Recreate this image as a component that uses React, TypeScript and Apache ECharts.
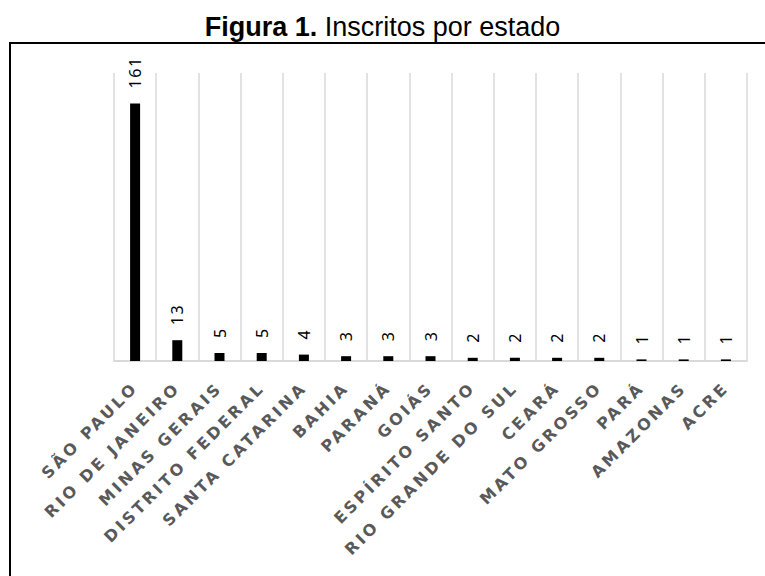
import React, { useEffect, useRef } from 'react';
import * as echarts from 'echarts';

const categories = [
  'SÃO PAULO',
  'RIO DE JANEIRO',
  'MINAS GERAIS',
  'DISTRITO FEDERAL',
  'SANTA CATARINA',
  'BAHIA',
  'PARANÁ',
  'GOIÁS',
  'ESPÍRITO SANTO',
  'RIO GRANDE DO SUL',
  'CEARÁ',
  'MATO GROSSO',
  'PARÁ',
  'AMAZONAS',
  'ACRE',
];
const inscritos = [161, 13, 5, 5, 4, 3, 3, 3, 2, 2, 2, 2, 1, 1, 1];
const yMin = 0;
const yMax = 180;

export default function App() {
  const ref = useRef<HTMLDivElement>(null);

  useEffect(() => {
    if (!ref.current) return;
    const chart = echarts.init(ref.current, undefined, { renderer: 'svg' });
    chart.setOption({
      animation: false,
      backgroundColor: '#ffffff',
      title: {
        text: '{b|Figura 1.}{r| Inscritos por estado}',
        left: 'center',
        top: 8,
        textStyle: {
          rich: {
            b: { fontFamily: 'Liberation Sans', fontWeight: 'bold', fontSize: 27, color: '#000' },
            r: { fontFamily: 'Liberation Sans', fontWeight: 'normal', fontSize: 27, color: '#000' },
          },
        },
      },
      graphic: [
        {
          type: 'rect',
          shape: { x: 10, y: 43, width: 820, height: 620 },
          style: { fill: 'none', stroke: '#000', lineWidth: 2 },
          silent: true,
        },
      ],
      grid: { left: 114, right: 18, top: 73, bottom: 215, containLabel: false },
      xAxis: {
        type: 'category',
        data: categories,
        boundaryGap: true,
        axisLine: { show: true, lineStyle: { color: '#d9d9d9', width: 2 } },
        axisTick: { show: false },
        splitLine: { show: true, interval: 0, lineStyle: { color: '#d9d9d9', width: 1.5 } },
        axisLabel: {
          interval: 0,
          rotate: 45,
          margin: 24,
          color: '#595959',
          fontFamily: 'DejaVu Sans',
          fontWeight: 'bold',
          fontSize: 16,
        },
      },
      yAxis: {
        type: 'value',
        min: yMin,
        max: yMax,
        show: false,
        splitLine: { show: false },
      },
      series: [
        {
          type: 'bar',
          data: inscritos,
          barWidth: 10,
          itemStyle: { color: '#000' },
          label: {
            show: true,
            position: 'top',
            rotate: 90,
            align: 'left',
            verticalAlign: 'middle',
            distance: 15,
            fontFamily: 'Noto Sans',
            fontSize: 16,
            color: '#000',
          },
        },
      ],
    });
    return () => chart.dispose();
  }, []);

  return (
    <>
      <style>{`#chart-box svg text[style*="DejaVu"] { letter-spacing: 3px; } #chart-box svg text[style*="Noto"] { letter-spacing: 1.5px; }`}</style>
      <div
        id="chart-box"
        ref={ref}
        style={{ position: 'absolute', left: 0, top: 0, width: 765, height: 576, overflow: 'hidden' }}
      />
    </>
  );
}
